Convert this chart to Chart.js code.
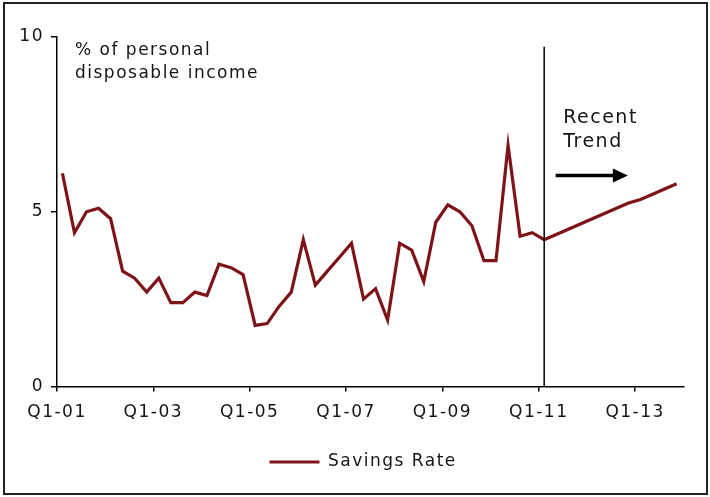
<!DOCTYPE html>
<html>
<head>
<meta charset="utf-8">
<script src="https://cdn.jsdelivr.net/npm/chart.js@4.4.1/dist/chart.umd.min.js"></script>
<style>
  html, body { margin: 0; padding: 0; background: #fff; }
  #wrap { position: relative; width: 710px; height: 497px; }
  #frame { position: absolute; left: 3px; top: 2px; width: 701px; height: 489px; border: 2px solid #222; pointer-events: none; }
  canvas { position: absolute; left: 0; top: 0; }
</style>
</head>
<body>
<div id="wrap">
  <canvas id="c" width="710" height="497" style="width:710px;height:497px"></canvas>
  <div id="frame"></div>
</div>
<script>
// quarters on the x axis
const quarters = [
  'Q1-01','Q2-01','Q3-01','Q4-01','Q1-02','Q2-02','Q3-02','Q4-02',
  'Q1-03','Q2-03','Q3-03','Q4-03','Q1-04','Q2-04','Q3-04','Q4-04',
  'Q1-05','Q2-05','Q3-05','Q4-05','Q1-06','Q2-06','Q3-06','Q4-06',
  'Q1-07','Q2-07','Q3-07','Q4-07','Q1-08','Q2-08','Q3-08','Q4-08',
  'Q1-09','Q2-09','Q3-09','Q4-09','Q1-10','Q2-10','Q3-10','Q4-10',
  'Q1-11','Q2-11','Q3-11','Q4-11','Q1-12','Q2-12','Q3-12','Q4-12',
  'Q1-13','Q2-13','Q3-13','Q4-13'
];

// savings rate, % of personal disposable income
const savingsRate = [
  6.1, 4.4, 5.0, 5.1, 4.8, 3.3, 3.1, 2.7, 3.1, 2.4,
  2.4, 2.7, 2.6, 3.5, 3.4, 3.2, 1.75, 1.8, 2.3, 2.7,
  4.2, 2.9, 3.3, 3.7, 4.1, 2.5, 2.8, 1.9, 4.1, 3.9,
  3.0, 4.7, 5.2, 5.0, 4.6, 3.6, 3.6, 6.9, 4.3, 4.4,
  4.2, 4.35, 4.5, 4.65, 4.8, 4.95, 5.1, 5.25, 5.35, 5.5,
  5.65, 5.8
];

const tickLabels  = ['Q1-01','Q1-03','Q1-05','Q1-07','Q1-09','Q1-11','Q1-13'];
const yTicks      = [0, 5, 10];
const seriesName  = 'Savings Rate';
const unitNote    = ['% of personal', 'disposable income'];
const trendNote   = ['Recent', 'Trend'];
const trendStart  = 'Q1-11';

const RED   = '#7e1418';
const INK   = '#151515';
const X_OFF = 0.45;          // points sit a little after the quarter tick
const FONT  = { family: "'DejaVu Sans', Verdana, sans-serif", size: 17 };
const SPACING = '1.5px';
const LEGEND_SHIFT = -7;

const tickIdx = tickLabels.map(l => quarters.indexOf(l));

// the reference text is tracked a bit wider than canvas default
const spacingPlugin = {
  id: 'spacing',
  beforeUpdate(chart) { chart.ctx.letterSpacing = SPACING; },
  afterLayout(chart) {
    const lg = chart.legend;
    if (lg) { lg.left += LEGEND_SHIFT; lg.right += LEGEND_SHIFT; }
  },
  beforeDraw(chart)   { chart.ctx.letterSpacing = SPACING; }
};

const notesPlugin = {
  id: 'notes',
  afterDatasetsDraw(chart) {
    const { ctx, chartArea: a, scales: { x, y } } = chart;
    ctx.save();
    ctx.letterSpacing = SPACING;

    // divider at start of the recent trend
    const vx = x.getPixelForValue(quarters.indexOf(trendStart) + X_OFF);
    ctx.strokeStyle = '#000';
    ctx.lineWidth = 1.5;
    ctx.beginPath();
    ctx.moveTo(vx, y.getPixelForValue(9.72));
    ctx.lineTo(vx, a.bottom);
    ctx.stroke();

    // arrow
    const ax0 = x.getPixelForValue(41.4), ax1 = x.getPixelForValue(47.4);
    const ay = y.getPixelForValue(6.04);
    ctx.strokeStyle = '#000';
    ctx.lineWidth = 3.5;
    ctx.beginPath();
    ctx.moveTo(ax0, ay);
    ctx.lineTo(ax1 - 12, ay);
    ctx.stroke();
    ctx.fillStyle = '#000';
    ctx.beginPath();
    ctx.moveTo(ax1, ay);
    ctx.lineTo(ax1 - 15, ay - 7);
    ctx.lineTo(ax1 - 15, ay + 7);
    ctx.closePath();
    ctx.fill();

    ctx.fillStyle = INK;
    ctx.textAlign = 'left';
    ctx.textBaseline = 'alphabetic';
    ctx.font = "17px 'DejaVu Sans', Verdana, sans-serif";
    ctx.fillText(unitNote[0], a.left + 18, 55);
    ctx.fillText(unitNote[1], a.left + 18, 78);

    ctx.font = "19px 'DejaVu Sans', Verdana, sans-serif";
    ctx.fillText(trendNote[0], vx + 19, 123);
    ctx.fillText(trendNote[1], vx + 19, 146.5);
    ctx.restore();
  }
};

new Chart(document.getElementById('c'), {
  type: 'line',
  plugins: [spacingPlugin, notesPlugin],
  data: {
    datasets: [{
      label: seriesName,
      data: savingsRate.map((v, i) => ({ x: i + X_OFF, y: v })),
      borderColor: RED,
      backgroundColor: RED,
      borderWidth: 3.2,
      pointRadius: 0,
      tension: 0,
      fill: false
    }]
  },
  options: {
    responsive: false,
    animation: false,
    layout: { padding: { top: 37, right: 26.7, bottom: 16.5, left: 0 } },
    scales: {
      x: {
        type: 'linear',
        min: 0,
        max: 52,
        afterBuildTicks(s) { s.ticks = tickIdx.map(v => ({ value: v })); },
        afterFit(s) { s.height = 57; },
        ticks: {
          callback: v => quarters[v],
          color: INK, font: FONT, padding: 11, maxRotation: 0, autoSkip: false
        },
        grid: { drawOnChartArea: false, drawTicks: true, tickLength: 5, color: '#000', lineWidth: 1.5 },
        border: { display: true, color: '#000', width: 1.5 }
      },
      y: {
        min: 0,
        max: 10,
        afterBuildTicks(s) { s.ticks = yTicks.map(v => ({ value: v })); },
        afterFit(s) { s.width = 57; },
        ticks: { color: INK, font: FONT, padding: 7 },
        grid: { drawOnChartArea: false, drawTicks: true, tickLength: 6, color: '#000', lineWidth: 1.5 },
        border: { display: true, color: '#000', width: 1.5 }
      }
    },
    plugins: {
      legend: {
        display: true,
        position: 'bottom',
        fullSize: false,
        labels: {
          usePointStyle: true,
          pointStyle: 'line',
          pointStyleWidth: 50,
          color: INK,
          font: FONT,
          padding: 10
        }
      },
      tooltip: { enabled: false }
    }
  }
});
</script>
</body>
</html>
